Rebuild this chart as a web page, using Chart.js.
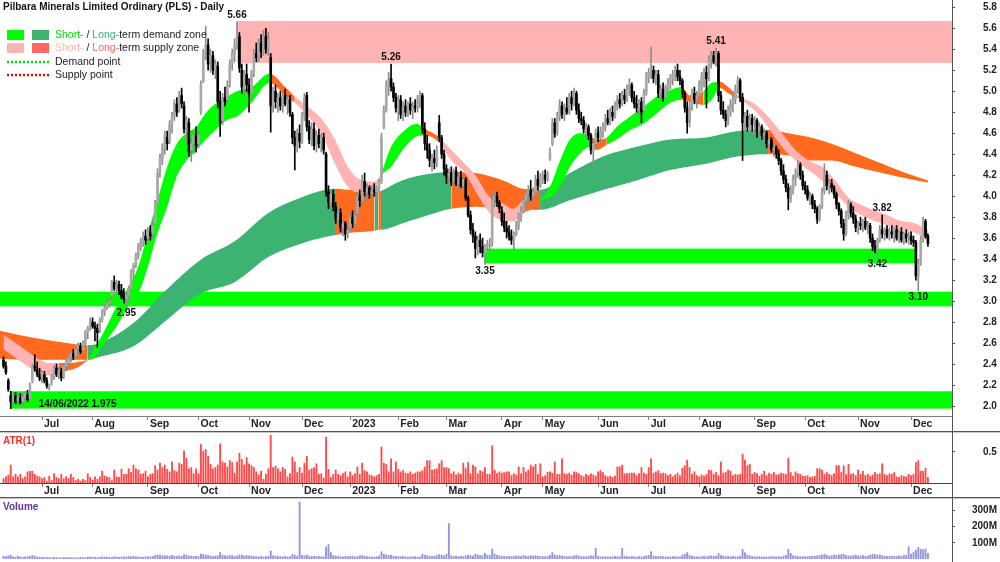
<!DOCTYPE html>
<html>
<head>
<meta charset="utf-8">
<title>Pilbara Minerals Limited Ordinary (PLS) - Daily</title>
<script src="https://cdn.jsdelivr.net/npm/chart.js@4.4.1/dist/chart.umd.min.js"></script>
<style>
  body { margin: 0; background: #fff; }
  #wrap { position: relative; width: 1000px; height: 562px; overflow: hidden; }
  #wrap canvas { position: absolute; left: 0; }
  .sep { position: absolute; left: 0; width: 1000px; height: 1px; background: #555; border-bottom: 1px solid #c8c8c8; }
  #vline { position: absolute; left: 952px; top: 0; width: 1px; height: 562px; background: #555; }
</style>
</head>
<body>
<div id="wrap">
  <canvas id="priceChart" width="1000" height="431" style="top:0"></canvas>
  <div class="sep" style="top:431px"></div>
  <canvas id="atrChart" width="1000" height="64" style="top:433px"></canvas>
  <div class="sep" style="top:497px"></div>
  <canvas id="volChart" width="1000" height="63" style="top:499px"></canvas>
  <div id="vline"></div>
</div>
<script>
// daily bars, 8 Jun 2022 .. 12 Dec 2023 (index = trading day)
const open = [
  2.44,2.38,2.24,2.10,2.04,2.10,2.05,2.08,2.04,2.08,2.11,2.07,2.24,2.38,2.35,2.30, // Jun 22
  2.27,2.30,2.24,2.18,2.22,2.28,2.36,2.30,2.33,2.28,2.38,2.42,2.46,2.50,2.47,2.55,2.57,2.53,2.60,2.70,2.74,
  2.80,2.76,2.74,2.72,2.82,2.90,2.95,2.98,3.05,3.18,3.12,3.16,3.10,3.06,3.02,3.06,3.12,3.28,3.36,3.44,3.52,3.56,3.62,
  3.60,3.66,3.64,3.74,3.94,4.24,4.36,4.46,4.56,4.52,4.68,4.76,4.88,4.82,4.96,4.86,4.66,4.70,4.44,4.50,4.58,
  4.50,4.80,5.10,5.36,5.44,5.28,5.34,5.20,5.24,4.90,4.72,4.94,4.92,5.08,5.26,5.36,5.46,5.52,5.20,5.04,5.16,
  5.06,4.98,5.18,5.36,5.32,5.46,5.38,5.52,5.40,5.32,4.86,5.00,4.90,4.94,4.86,4.96,4.88,4.92,4.78,4.56,4.48,4.60,
  4.52,4.76,4.96,4.66,4.54,4.64,4.48,4.58,4.50,4.56,4.40,4.04,3.94,4.02,3.90,3.78,3.84,3.70,3.74,3.64,
  3.70,3.80,3.74,3.84,4.00,3.96,4.14,4.04,4.08,4.02,4.06,4.04,4.08,4.14,4.66,4.82,5.06,5.12,5.04,4.94, // Jan 23
  4.84,4.92,4.78,4.86,4.80,4.88,4.82,4.86,4.84,4.92,4.96,4.64,4.50,4.44,4.34,4.36,4.32,4.70,4.56,4.40,
  4.26,4.18,4.22,4.14,4.24,4.12,4.18,4.10,4.16,3.98,3.82,3.68,3.62,3.50,3.58,3.52,3.46,3.52,3.54,3.56,3.96,4.00,3.94,
  3.86,3.76,3.70,3.66,3.62,3.58,3.64,3.72,3.80,3.86,3.96,4.02,4.06,4.00,4.04,4.16,4.10,
  4.18,4.20,4.16,4.36,4.50,4.70,4.60,4.76,4.86,4.78,4.84,4.80,4.94,4.88,4.98,4.82,4.74,4.72,4.64,4.66,4.58,4.44,4.50,
  4.60,4.56,4.62,4.66,4.74,4.70,4.80,4.76,4.86,4.92,4.88,4.96,4.92,5.02,5.06,4.94,4.88,4.84,4.90,4.82,4.98,
  5.14,5.18,5.20,5.12,5.16,4.98,5.02,4.94,5.04,5.08,5.12,5.16,5.20,5.14,5.10,4.98,4.84,4.70,4.86,4.98,4.92,
  4.96,5.06,5.10,5.18,5.12,5.30,5.34,5.28,5.36,4.96,4.82,4.78,4.72,4.82,4.88,4.92,5.02,5.10,4.94,4.70,4.76,4.66,4.74,
  4.68,4.72,4.62,4.66,4.58,4.60,4.50,4.54,4.44,4.46,4.40,4.34,4.24,4.16,4.08,3.98,4.06,4.16,4.22,4.30,4.20,
  4.10,4.06,3.98,4.00,3.92,3.88,3.78,3.90,4.04,4.20,4.10,4.12,4.08,4.02,3.92,3.86,3.74,3.64,3.82,3.92,3.84,3.78,
  3.70,3.74,3.72,3.76,3.70,3.72,3.60,3.52,3.50,3.58,3.68,3.64,3.68,3.62,3.66,3.64,3.68,3.60,3.66,3.58,3.64,3.60,
  3.62,3.58,3.56,3.24,3.36,3.58,3.76,3.62
];
const high = [
  2.47,2.42,2.26,2.14,2.12,2.13,2.12,2.12,2.11,2.14,2.15,2.22,2.40,2.49,2.42,2.36,
  2.34,2.33,2.27,2.21,2.30,2.38,2.40,2.37,2.36,2.40,2.45,2.48,2.52,2.54,2.56,2.60,2.60,2.62,2.72,2.76,2.84,
  2.84,2.80,2.78,2.84,2.92,2.97,3.02,3.03,3.20,3.24,3.20,3.19,3.16,3.12,3.08,3.14,3.30,3.36,3.46,3.55,3.60,3.66,3.68,
  3.70,3.72,3.76,3.96,4.26,4.40,4.50,4.62,4.62,4.72,4.80,4.92,4.94,5.00,5.03,4.90,4.76,4.74,4.56,4.62,4.66,
  4.62,5.10,5.40,5.62,5.50,5.40,5.38,5.30,5.28,5.00,4.98,5.04,5.10,5.30,5.40,5.50,5.66,5.56,5.26,5.20,5.26,
  5.12,5.20,5.40,5.46,5.50,5.54,5.58,5.60,5.56,5.36,5.04,5.06,4.98,5.00,4.98,5.02,4.96,4.96,4.80,4.62,4.64,4.68,
  4.80,4.98,4.99,4.72,4.70,4.70,4.62,4.64,4.60,4.60,4.42,4.10,4.06,4.06,3.94,3.90,3.88,3.78,3.76,3.72,
  3.84,3.86,3.84,4.04,4.06,4.20,4.22,4.12,4.10,4.10,4.12,4.10,4.16,4.60,4.86,5.10,5.18,5.26,5.08,4.98,
  4.96,4.96,4.90,4.92,4.90,4.94,4.90,4.92,4.96,5.00,4.98,4.70,4.58,4.50,4.40,4.44,4.48,4.77,4.58,4.44,
  4.30,4.26,4.28,4.26,4.28,4.22,4.24,4.20,4.18,4.00,3.86,3.74,3.66,3.62,3.64,3.60,3.54,3.58,3.60,4.02,4.04,4.04,3.96,
  3.90,3.84,3.76,3.72,3.68,3.66,3.76,3.84,3.90,4.00,4.06,4.10,4.15,4.08,4.20,4.24,4.22,
  4.24,4.25,4.24,4.46,4.74,4.74,4.80,4.92,4.90,4.88,4.94,4.98,5.00,5.03,5.00,4.88,4.80,4.76,4.70,4.68,4.60,4.54,4.64,
  4.66,4.66,4.70,4.78,4.82,4.84,4.86,4.90,4.96,4.98,5.00,5.02,5.06,5.12,5.08,5.00,4.96,4.92,4.94,5.02,5.18,
  5.22,5.42,5.24,5.20,5.20,5.06,5.08,5.06,5.12,5.16,5.20,5.24,5.26,5.20,5.12,5.00,4.90,4.90,5.02,5.04,5.00,
  5.10,5.18,5.22,5.24,5.34,5.38,5.38,5.41,5.38,5.00,4.90,4.82,4.86,4.92,4.96,5.06,5.14,5.12,4.98,4.80,4.82,4.78,4.78,
  4.76,4.74,4.70,4.68,4.64,4.62,4.58,4.56,4.50,4.48,4.44,4.36,4.30,4.20,4.12,4.10,4.20,4.26,4.34,4.32,4.24,
  4.14,4.10,4.04,4.02,3.96,3.90,3.92,4.08,4.31,4.24,4.16,4.16,4.10,4.04,3.94,3.88,3.78,3.86,3.96,3.94,3.90,3.82,
  3.76,3.80,3.78,3.80,3.76,3.74,3.64,3.58,3.60,3.72,3.82,3.70,3.72,3.70,3.72,3.70,3.72,3.68,3.70,3.66,3.68,3.66,
  3.66,3.62,3.58,3.40,3.62,3.80,3.78,3.64
];
const low = [
  2.36,2.30,2.14,1.975,2.00,2.02,2.01,2.02,2.00,2.05,2.04,2.05,2.22,2.33,2.28,2.24,
  2.22,2.22,2.17,2.15,2.20,2.25,2.28,2.26,2.24,2.26,2.34,2.38,2.42,2.44,2.45,2.50,2.50,2.51,2.58,2.64,2.72,
  2.74,2.62,2.56,2.70,2.80,2.86,2.92,2.94,3.03,3.10,3.08,3.06,3.02,2.98,2.95,3.00,3.10,3.22,3.32,3.40,3.48,3.52,3.54,
  3.56,3.58,3.60,3.72,3.92,4.18,4.30,4.40,4.44,4.50,4.60,4.72,4.76,4.80,4.84,4.60,4.50,4.38,4.33,4.40,4.42,
  4.46,4.78,5.08,5.30,5.20,5.18,5.16,5.12,4.84,4.57,4.68,4.86,4.88,5.04,5.20,5.28,5.40,5.18,4.98,4.96,5.00,
  4.80,4.92,5.14,5.28,5.28,5.32,5.34,5.36,5.34,4.61,4.80,4.84,4.80,4.82,4.80,4.86,4.78,4.76,4.50,4.25,4.42,4.46,
  4.50,4.72,4.62,4.50,4.48,4.44,4.42,4.46,4.42,4.40,4.00,3.88,3.90,3.86,3.74,3.72,3.66,3.62,3.58,3.60,
  3.66,3.70,3.68,3.80,3.90,3.94,4.00,3.96,3.98,3.98,4.00,4.00,4.04,4.12,4.64,4.80,4.96,5.00,4.90,4.80,
  4.72,4.74,4.72,4.76,4.76,4.78,4.74,4.80,4.80,4.84,4.60,4.44,4.36,4.28,4.24,4.26,4.28,4.52,4.36,4.20,
  4.12,4.10,4.10,4.10,4.10,4.06,4.08,4.06,3.96,3.80,3.64,3.56,3.41,3.44,3.46,3.42,3.35,3.48,3.48,3.52,3.90,3.90,3.84,
  3.72,3.66,3.60,3.58,3.54,3.50,3.62,3.68,3.76,3.84,3.90,3.94,3.96,3.94,4.00,4.06,4.08,
  4.12,4.12,4.14,4.34,4.48,4.56,4.58,4.72,4.74,4.72,4.78,4.78,4.82,4.86,4.78,4.70,4.68,4.60,4.56,4.54,4.40,4.28,4.46,
  4.52,4.52,4.56,4.62,4.68,4.68,4.72,4.74,4.82,4.84,4.86,4.88,4.90,4.96,4.90,4.84,4.80,4.78,4.70,4.80,4.96,
  5.08,5.12,5.08,5.06,4.94,4.92,4.90,4.92,5.00,5.02,5.06,5.10,5.10,5.06,4.94,4.80,4.60,4.66,4.82,4.88,4.84,
  4.92,5.00,5.04,4.84,5.10,5.22,5.26,5.24,4.90,4.78,4.74,4.66,4.68,4.76,4.80,4.88,4.98,4.90,4.34,4.62,4.62,4.60,4.62,
  4.58,4.56,4.56,4.54,4.52,4.46,4.46,4.42,4.38,4.36,4.30,4.20,4.12,4.04,3.87,3.94,4.02,4.10,4.18,4.16,4.06,
  4.02,3.96,3.92,3.88,3.84,3.74,3.76,3.88,4.02,4.06,4.02,4.04,3.98,3.88,3.82,3.70,3.58,3.62,3.78,3.80,3.74,3.66,
  3.64,3.68,3.66,3.68,3.64,3.56,3.48,3.46,3.42,3.56,3.60,3.58,3.60,3.58,3.60,3.56,3.58,3.56,3.56,3.54,3.56,3.54,
  3.54,3.52,3.20,3.10,3.34,3.56,3.60,3.52
];
const close = [
  2.38,2.32,2.16,2.04,2.10,2.04,2.09,2.03,2.09,2.12,2.06,2.20,2.38,2.36,2.30,2.26,
  2.32,2.24,2.19,2.20,2.28,2.36,2.30,2.34,2.27,2.38,2.43,2.46,2.50,2.47,2.54,2.57,2.52,2.60,2.70,2.74,2.80,
  2.76,2.74,2.70,2.82,2.90,2.94,2.98,3.00,3.18,3.12,3.16,3.10,3.04,3.02,3.06,3.12,3.28,3.34,3.44,3.52,3.56,3.62,3.58,
  3.66,3.62,3.72,3.92,4.22,4.36,4.46,4.58,4.50,4.68,4.76,4.88,4.80,4.96,4.88,4.64,4.72,4.42,4.50,4.58,4.48,
  4.58,5.06,5.36,5.44,5.26,5.34,5.20,5.26,4.90,4.70,4.94,4.90,5.06,5.26,5.36,5.44,5.52,5.22,5.04,5.16,5.06,
  4.98,5.16,5.36,5.32,5.46,5.38,5.52,5.40,5.50,4.86,5.00,4.90,4.94,4.86,4.96,4.88,4.92,4.80,4.56,4.48,4.60,4.52,
  4.76,4.94,4.66,4.54,4.64,4.48,4.58,4.50,4.56,4.44,4.04,3.94,4.02,3.90,3.78,3.84,3.70,3.74,3.64,3.68,
  3.80,3.74,3.82,4.00,3.96,4.14,4.04,4.08,4.02,4.06,4.04,4.08,4.14,4.56,4.82,5.06,5.12,5.04,4.94,4.84,
  4.92,4.78,4.86,4.80,4.88,4.82,4.86,4.84,4.92,4.96,4.64,4.50,4.44,4.34,4.36,4.32,4.44,4.56,4.40,4.26,
  4.18,4.22,4.14,4.24,4.12,4.18,4.10,4.16,3.98,3.82,3.68,3.62,3.50,3.58,3.52,3.46,3.52,3.54,3.56,3.96,4.00,3.94,3.88,
  3.76,3.70,3.66,3.62,3.58,3.64,3.72,3.80,3.86,3.96,4.02,4.06,4.00,4.04,4.16,4.10,4.18,
  4.20,4.16,4.22,4.42,4.70,4.60,4.76,4.86,4.78,4.84,4.80,4.94,4.88,4.98,4.82,4.74,4.72,4.64,4.66,4.58,4.44,4.50,4.60,
  4.56,4.62,4.66,4.74,4.70,4.80,4.76,4.86,4.92,4.88,4.96,4.92,5.02,5.06,4.94,4.88,4.84,4.90,4.80,4.98,5.14,
  5.18,5.20,5.12,5.16,4.98,5.02,4.94,5.04,5.08,5.12,5.16,5.20,5.14,5.10,4.98,4.84,4.70,4.86,4.98,4.92,4.96,
  5.06,5.14,5.18,5.12,5.30,5.34,5.28,5.36,4.96,4.82,4.78,4.72,4.82,4.88,4.92,5.02,5.10,4.94,4.70,4.76,4.66,4.74,4.68,
  4.72,4.62,4.66,4.58,4.60,4.50,4.54,4.44,4.46,4.40,4.34,4.24,4.16,4.08,3.98,4.06,4.16,4.22,4.30,4.20,4.10,
  4.06,3.98,4.00,3.92,3.88,3.78,3.90,4.04,4.20,4.10,4.12,4.08,4.02,3.92,3.86,3.74,3.64,3.82,3.92,3.84,3.78,3.70,
  3.74,3.72,3.76,3.70,3.72,3.60,3.52,3.50,3.58,3.68,3.64,3.68,3.62,3.66,3.64,3.68,3.60,3.66,3.58,3.64,3.60,3.62,
  3.58,3.56,3.24,3.36,3.58,3.76,3.62,3.55
];
// ATR(1)
const atr = [
  0.07,0.10,0.13,0.29,0.10,0.14,0.10,0.14,0.07,0.10,0.18,0.19,0.19,0.14,0.11,0.10,
  0.07,0.09,0.03,0.11,0.04,0.15,0.09,0.07,0.14,0.07,0.10,0.07,0.14,0.09,0.04,0.06,0.03,0.06,0.04,0.15,0.09,
  0.05,0.10,0.06,0.10,0.19,0.11,0.10,0.09,0.04,0.21,0.10,0.09,0.22,0.14,0.14,0.23,0.17,0.29,0.23,0.21,0.14,0.15,0.19,
  0.10,0.14,0.15,0.28,0.21,0.32,0.25,0.29,0.22,0.18,0.34,0.20,0.18,0.32,0.30,0.52,0.40,0.23,0.25,0.15,0.23,
  0.15,0.62,0.51,0.54,0.43,0.30,0.23,0.25,0.29,0.63,0.34,0.32,0.26,0.36,0.33,0.16,0.34,0.48,0.38,0.29,0.41,
  0.31,0.28,0.25,0.18,0.13,0.19,0.06,0.14,0.23,0.77,0.25,0.27,0.23,0.18,0.25,0.22,0.10,0.15,0.42,0.34,0.17,0.25,
  0.16,0.32,0.43,0.21,0.23,0.25,0.31,0.14,0.15,0.08,0.74,0.22,0.09,0.14,0.21,0.14,0.12,0.15,0.18,0.10,
  0.18,0.12,0.15,0.26,0.14,0.32,0.20,0.18,0.13,0.12,0.10,0.12,0.14,0.58,0.32,0.30,0.18,0.39,0.18,0.34,
  0.22,0.18,0.20,0.16,0.15,0.18,0.14,0.16,0.18,0.18,0.20,0.26,0.36,0.36,0.21,0.22,0.23,0.31,0.36,0.25,
  0.25,0.23,0.15,0.18,0.13,0.16,0.14,0.32,0.23,0.33,0.15,0.29,0.26,0.15,0.20,0.18,0.25,0.14,0.14,0.60,0.21,0.15,0.18,
  0.16,0.17,0.18,0.18,0.12,0.15,0.13,0.26,0.15,0.25,0.18,0.21,0.29,0.26,0.30,0.14,0.31,
  0.10,0.12,0.17,0.18,0.16,0.34,0.14,0.14,0.39,0.15,0.14,0.16,0.13,0.18,0.17,0.15,0.12,0.10,0.14,0.12,0.15,0.13,0.11,
  0.18,0.20,0.17,0.12,0.10,0.11,0.09,0.11,0.26,0.26,0.29,0.15,0.15,0.16,0.16,0.16,0.12,0.15,0.25,0.16,0.14,
  0.25,0.39,0.16,0.18,0.20,0.15,0.16,0.15,0.12,0.14,0.10,0.13,0.16,0.12,0.24,0.28,0.37,0.25,0.14,0.18,0.12,
  0.10,0.13,0.11,0.14,0.21,0.20,0.14,0.17,0.12,0.34,0.16,0.17,0.21,0.19,0.12,0.14,0.13,0.14,0.46,0.37,0.28,0.30,0.14,
  0.17,0.15,0.11,0.14,0.19,0.12,0.16,0.14,0.17,0.13,0.14,0.16,0.15,0.14,0.40,0.17,0.11,0.18,0.15,0.14,0.11,
  0.11,0.12,0.09,0.10,0.11,0.23,0.23,0.21,0.14,0.17,0.14,0.12,0.15,0.28,0.28,0.17,0.28,0.14,0.30,0.14,0.15,0.12,
  0.21,0.14,0.19,0.12,0.14,0.11,0.13,0.17,0.14,0.15,0.31,0.14,0.12,0.15,0.14,0.17,0.10,0.09,0.12,0.11,0.10,0.14,
  0.12,0.14,0.33,0.36,0.19,0.19,0.24,0.09
];
// volume, millions of shares
const volume = [
  18,15,20,25,14,12,16,13,11,14,15,16,22,18,13,12,
  11,10,9,10,8,10,9,8,7,11,9,10,8,9,7,8,10,9,8,12,13,
  10,12,9,11,14,13,12,11,10,15,12,11,13,12,14,16,15,18,14,13,12,11,15,
  14,13,16,22,25,24,20,21,19,18,22,17,16,20,18,28,24,19,18,16,17,
  15,30,28,25,22,19,17,18,20,40,24,20,18,22,21,16,20,26,24,18,22,
  20,18,16,15,14,17,12,15,16,50,20,18,16,15,14,17,13,15,28,24,18,352,
  22,20,25,18,16,17,15,16,14,13,75,90,40,22,18,16,15,14,17,16,
  15,18,14,16,20,22,17,15,14,13,12,15,18,45,30,25,22,24,18,16,
  15,14,16,13,12,14,13,15,12,14,30,24,20,18,16,17,22,28,24,20,
  30,220,20,16,18,15,17,14,20,25,22,18,30,25,22,20,35,24,22,62,30,22,20,
  18,16,15,17,14,16,20,18,15,22,17,16,20,18,22,17,16,
  15,14,16,22,40,25,20,22,18,16,15,17,14,20,24,18,15,16,14,17,20,18,66,
  16,14,13,15,12,14,13,16,15,14,66,17,15,13,16,14,12,15,14,16,20,
  22,45,18,16,15,17,14,13,12,14,15,16,14,13,25,30,40,22,18,15,14,
  13,15,16,14,18,20,17,16,35,22,18,15,16,14,17,13,14,18,60,40,25,20,16,
  14,13,15,12,14,13,12,16,14,13,15,12,18,22,60,35,20,18,16,14,15,
  14,16,15,17,18,20,22,25,30,22,18,20,24,22,26,28,30,22,20,18,22,25,
  20,18,22,17,19,24,30,28,24,26,20,18,17,16,18,15,17,19,18,22,24,76,
  30,40,55,72,60,58,62,35
];

// x axis: first trading day of each month
const monthIdx = [16,37,60,81,102,124,144,164,184,207,224,247,268,289,312,333,355,377];
const monthLabels = ['Jul','Aug','Sep','Oct','Nov','Dec','2023','Feb','Mar','Apr','May','Jun','Jul','Aug','Sep','Oct','Nov','Dec'];
const priceTicks = [2.0,2.2,2.4,2.6,2.8,3.0,3.2,3.4,3.6,3.8,4.0,4.2,4.4,4.6,4.8,5.0,5.2,5.4,5.6,5.8];
const atrTicks = [0.5];
const volTicks = [100,200,300];

// short-term zone edges (g = demand, p = supply, o = turning)
const shortX  = [0,5,10,15,19,23,27,31,35,38,42,47,52,56,60,64,68,72,76,80,84,88,93,97,103,110.5,117,121,126.5,132,137.7,143,149,154,156.5,161,166.8,171.7,175,180.5,186,191.7,196,202,207.5,211.7,216,218.7,222.9,227,231.2,235.3,239.5,243.6,246.4,250.6,254.7,260.3,265.8,271.4,276.9,281.8,285,290.7,294.2,297.6,301,305,312,317.6,323.3,329,334.3,340,345.5,350.9,358,365,372,378.8,384];
const shortHi = [2.68,2.60,2.52,2.44,2.41,2.41,2.41,2.42,2.445,2.56,2.72,2.95,3.14,3.33,3.65,3.96,4.28,4.50,4.60,4.66,4.79,4.88,4.95,5.00,5.04,5.17,5.04,4.95,4.85,4.74,4.54,4.28,4.15,4.14,4.20,4.47,4.63,4.69,4.64,4.57,4.44,4.31,4.20,3.99,3.93,3.88,3.96,3.99,3.97,4.09,4.34,4.54,4.60,4.57,4.54,4.56,4.66,4.76,4.85,4.95,5.01,5.04,4.96,5.00,5.08,5.09,5.04,4.96,4.88,4.76,4.60,4.44,4.34,4.28,4.15,3.99,3.90,3.84,3.77,3.74,3.68];
const shortLo = [2.54,2.46,2.38,2.31,2.29,2.31,2.34,2.37,2.435,2.47,2.60,2.76,2.95,3.07,3.33,3.65,3.90,4.19,4.34,4.44,4.54,4.63,4.73,4.76,4.89,5.08,4.96,4.89,4.76,4.60,4.31,4.09,4.03,4.04,4.18,4.28,4.47,4.57,4.58,4.52,4.34,4.22,4.05,3.84,3.77,3.76,3.84,3.87,3.95,3.99,4.09,4.28,4.41,4.47,4.44,4.49,4.54,4.63,4.69,4.79,4.89,4.92,4.90,4.87,4.92,5.03,4.98,4.93,4.82,4.66,4.47,4.34,4.25,4.15,4.03,3.90,3.80,3.74,3.68,3.65,3.58];
const shortState = ['p','p','p','p','p','o','o','o','g','g','g','g','g','g','g','g','g','g','g','g','g','g','g','g','g','o','o','p','p','p','p','p','p','p','g','g','g','g','o','p','p','p','p','p','p','p','o','o','g','g','g','g','g','o','o','g','g','g','g','g','g','o','o','g','g','o','o','p','p','p','p','p','p','p','p','p','p','p','p','p','p'];

// long-term zone edges (g = demand, o = supply)
const longX  = [-2,12.4,26.2,34.8,40,54,67.8,81.6,96,110,123.9,133.6,137.7,143.3,154.1,155.7,156.8,165.5,179.3,186,196,207.5,215.8,222.9,235.3,249.2,263,276.9,292,305.2,317.6,326,333,344,354,365,374.8,384];
const longHi = [2.72,2.65,2.60,2.58,2.60,2.79,3.11,3.39,3.57,3.84,3.99,4.06,4.07,4.06,4.04,4.04,4.05,4.15,4.22,4.23,4.22,4.15,4.07,4.06,4.22,4.38,4.47,4.54,4.56,4.62,4.63,4.60,4.57,4.50,4.41,4.31,4.22,4.15];
const longLo = [2.45,2.44,2.44,2.44,2.47,2.57,2.82,3.07,3.18,3.42,3.55,3.61,3.63,3.65,3.67,3.68,3.68,3.74,3.84,3.88,3.90,3.88,3.87,3.87,3.96,4.06,4.15,4.25,4.31,4.38,4.40,4.39,4.34,4.34,4.28,4.22,4.17,4.13];
const longState = ['o','o','o','g','g','g','g','g','g','g','g','g','o','o','g','o','g','g','g','o','o','o','o','g','g','g','g','g','g','g','o','o','o','o','o','o','o','o'];

// demand / supply zones
const demandLo = [2.95, 1.975, 3.36];
const demandHi = [3.09, 2.14, 3.50];
const demandFrom = [-2, 3, 200];
const demandTo = [394, 394, 379];
const supplyLo = [5.27];
const supplyHi = [5.67];
const supplyFrom = [97];

// marked highs and lows
const noteIdx = [97, 161, 296, 365, 51, 200, 363, 380, 3];
const notePrice = [5.66, 5.26, 5.41, 3.82, 2.95, 3.35, 3.42, 3.10, 1.975];
const noteText = ['5.66','5.26','5.41','3.82','2.95','3.35','3.42','3.10','14/06/2022 1.975'];
const noteSide = ['above','above','above','above','below','below','below','below','right'];

const X_MIN = -1.45, X_MAX = 394.0;
const FONT = "'Liberation Sans', Arial, sans-serif";
Chart.defaults.font.family = FONT;
Chart.defaults.animation = false;
Chart.defaults.events = [];
Chart.defaults.plugins.legend.display = false;
Chart.defaults.plugins.tooltip.enabled = false;

const zoneCol = {g: '#00ff00', p: '#ffb3b3', o: '#ff6a1f'};
const longCol = {g: '#3cb371', o: '#ff6a1f'};

function xAxis(show, height) {
  return {
    type: 'linear', min: X_MIN, max: X_MAX, bounds: 'data', offset: false, display: show,
    border: {display: true, color: '#808080'},
    grid: {display: true, offset: false, drawOnChartArea: false, drawTicks: true, tickLength: 4, color: '#808080'},
    ticks: {autoSkip: false, maxRotation: 0, align: 'start', padding: -2, labelOffset: 2,
      color: '#222', font: {size: 10.5, weight: 'bold'}, callback: (v, k) => monthLabels[k]},
    afterBuildTicks: s => { s.ticks = monthIdx.map(v => ({value: v})); },
    afterFit: s => { s.height = height; s.paddingLeft = 0; s.paddingRight = 0; }
  };
}
function yAxis(min, max, ticks, pad, fmt) {
  return {
    position: 'right', min, max, bounds: 'data',
    border: {display: false},
    grid: {display: true, offset: false, drawOnChartArea: false, drawTicks: true, tickLength: 3, color: '#555'},
    ticks: {crossAlign: 'near', padding: pad, color: '#222', font: {size: 10, weight: 'bold'}, callback: fmt},
    afterBuildTicks: s => { s.ticks = ticks.map(v => ({value: v})); },
    afterFit: s => { s.width = 48; s.paddingTop = 0; s.paddingBottom = 0; }
  };
}

const isUp = i => close[i] >= open[i];

const priceDecor = {
  id: 'priceDecor',
  beforeDatasetsDraw(chart) {
    const {ctx, chartArea: a, scales: {x, y}} = chart;
    ctx.save();
    ctx.beginPath(); ctx.rect(a.left, a.top, a.right - a.left, a.bottom - a.top); ctx.clip();
    ctx.fillStyle = '#ffb3b3';
    supplyLo.forEach((lo, k) => {
      const x0 = x.getPixelForValue(supplyFrom[k]);
      const yt = y.getPixelForValue(supplyHi[k]);
      ctx.fillRect(x0, yt, a.right - x0, y.getPixelForValue(lo) - yt);
    });
    ctx.fillStyle = '#00ff00';
    demandLo.forEach((lo, k) => {
      const x0 = x.getPixelForValue(demandFrom[k]), x1 = x.getPixelForValue(demandTo[k]);
      const yt = y.getPixelForValue(demandHi[k]);
      ctx.fillRect(x0, yt, x1 - x0, y.getPixelForValue(lo) - yt);
    });
    ctx.restore();
  },
  afterDraw(chart) {
    const {ctx, scales: {x, y}} = chart;
    ctx.save();
    ctx.textBaseline = 'middle';
    // title
    ctx.fillStyle = '#111';
    ctx.font = 'bold 10px ' + FONT;
    ctx.textAlign = 'left';
    ctx.fillText('Pilbara Minerals Limited Ordinary (PLS) - Daily', 3, 7.5);
    // legend
    const rows = [
      [['Short-', '#00e000'], [' / ', '#222'], ['Long-', '#3cb371'], ['term demand zone', '#222']],
      [['Short-', '#ffb3b3'], [' / ', '#222'], ['Long-', '#ff6666'], ['term supply zone', '#222']],
      [['Demand point', '#222']],
      [['Supply point', '#222']]
    ];
    const rowY = [35, 48.5, 62, 75];
    ctx.font = '10.5px ' + FONT;
    rows.forEach((parts, r) => {
      let tx = 55;
      parts.forEach(([t, c]) => { ctx.fillStyle = c; ctx.fillText(t, tx, rowY[r]); tx += ctx.measureText(t).width; });
    });
    ctx.fillStyle = '#00ff00'; ctx.fillRect(7, 30, 17, 10);
    ctx.fillStyle = '#3cb371'; ctx.fillRect(32, 30, 17, 10);
    ctx.fillStyle = '#ffb3b3'; ctx.fillRect(7, 43, 17, 10);
    ctx.fillStyle = '#ff6666'; ctx.fillRect(32, 43, 17, 10);
    ctx.lineWidth = 2.5;
    ctx.setLineDash([2, 2]);
    ctx.strokeStyle = '#00e000';
    ctx.beginPath(); ctx.moveTo(7, 62); ctx.lineTo(49, 62); ctx.stroke();
    ctx.strokeStyle = '#ff0000';
    ctx.beginPath(); ctx.moveTo(7, 75); ctx.lineTo(49, 75); ctx.stroke();
    ctx.setLineDash([]);
    // marked highs and lows
    ctx.font = 'bold 10px ' + FONT;
    ctx.fillStyle = '#111';
    noteIdx.forEach((i, k) => {
      const px = x.getPixelForValue(i), py = y.getPixelForValue(notePrice[k]);
      if (noteSide[k] === 'above') { ctx.textAlign = 'center'; ctx.fillText(noteText[k], px, py - 6.5); }
      else if (noteSide[k] === 'below') { ctx.textAlign = 'center'; ctx.fillText(noteText[k], px, py + 7); }
      else { ctx.textAlign = 'left'; ctx.fillText(noteText[k], px + 28, py - 4); }
    });
    ctx.restore();
  }
};

function panelLabel(text, color) {
  return {
    id: 'panelLabel',
    afterDraw(chart) {
      const {ctx, chartArea: a} = chart;
      ctx.save();
      ctx.font = 'bold 10px ' + FONT;
      ctx.fillStyle = color;
      ctx.textBaseline = 'middle';
      ctx.fillText(text, a.left + 3, a.top + 8);
      ctx.restore();
    }
  };
}

new Chart(document.getElementById('priceChart'), {
  type: 'bar',
  data: {
    datasets: [
      {
        label: 'body', order: 0, grouped: false, barThickness: 2, minBarLength: 1,
        data: open.map((o, i) => ({x: i, y: [o, close[i]]})),
        backgroundColor: c => isUp(c.dataIndex) ? '#a8a8a8' : '#000'
      },
      {
        label: 'wick', order: 1, grouped: false, barThickness: 1,
        data: open.map((o, i) => ({x: i, y: [low[i], high[i]]})),
        backgroundColor: c => isUp(c.dataIndex) ? '#8c8c8c' : '#000'
      },
      {
        type: 'line', label: 'short hi', order: 2, fill: '+1', borderWidth: 0, pointRadius: 0,
        cubicInterpolationMode: 'monotone', backgroundColor: '#ffb3b3',
        data: shortX.map((v, k) => ({x: v, y: shortHi[k]})),
        segment: {backgroundColor: c => zoneCol[shortState[c.p0DataIndex]]}
      },
      {
        type: 'line', label: 'short lo', order: 3, fill: false, borderWidth: 0, pointRadius: 0,
        cubicInterpolationMode: 'monotone',
        data: shortX.map((v, k) => ({x: v, y: shortLo[k]}))
      },
      {
        type: 'line', label: 'long hi', order: 4, fill: '+1', borderWidth: 0, pointRadius: 0,
        cubicInterpolationMode: 'monotone', backgroundColor: '#3cb371',
        data: longX.map((v, k) => ({x: v, y: longHi[k]})),
        segment: {backgroundColor: c => longCol[longState[c.p0DataIndex]]}
      },
      {
        type: 'line', label: 'long lo', order: 5, fill: false, borderWidth: 0, pointRadius: 0,
        cubicInterpolationMode: 'monotone',
        data: longX.map((v, k) => ({x: v, y: longLo[k]}))
      }
    ]
  },
  options: {
    responsive: false, devicePixelRatio: 1,
    layout: {padding: 0},
    scales: {
      x: xAxis(true, 15),
      y: yAxis(1.9047, 5.8697, priceTicks, 28, v => v.toFixed(1))
    }
  },
  plugins: [priceDecor]
});

new Chart(document.getElementById('atrChart'), {
  type: 'bar',
  data: {
    datasets: [{
      label: 'ATR(1)', barThickness: 1.2, backgroundColor: '#ff4a4a',
      data: atr.map((v, i) => ({x: i, y: v}))
    }]
  },
  options: {
    responsive: false, devicePixelRatio: 1,
    layout: {padding: 0},
    scales: {
      x: Object.assign(xAxis(true, 14), {border: {display: true, color: '#444'}}),
      y: yAxis(0, 0.806, atrTicks, 28, v => v.toFixed(1))
    }
  },
  plugins: [panelLabel('ATR(1)', '#ff2a2a')]
});

new Chart(document.getElementById('volChart'), {
  type: 'bar',
  data: {
    datasets: [{
      label: 'Volume', barThickness: 1.2, backgroundColor: '#9494dd',
      data: volume.map((v, i) => ({x: i, y: v}))
    }]
  },
  options: {
    responsive: false, devicePixelRatio: 1,
    layout: {padding: {bottom: 3}},
    scales: {
      x: xAxis(false, 0),
      y: yAxis(0, 371.5, volTicks, 17, v => v + 'M')
    }
  },
  plugins: [panelLabel('Volume', '#663399')]
});
</script>
</body>
</html>
